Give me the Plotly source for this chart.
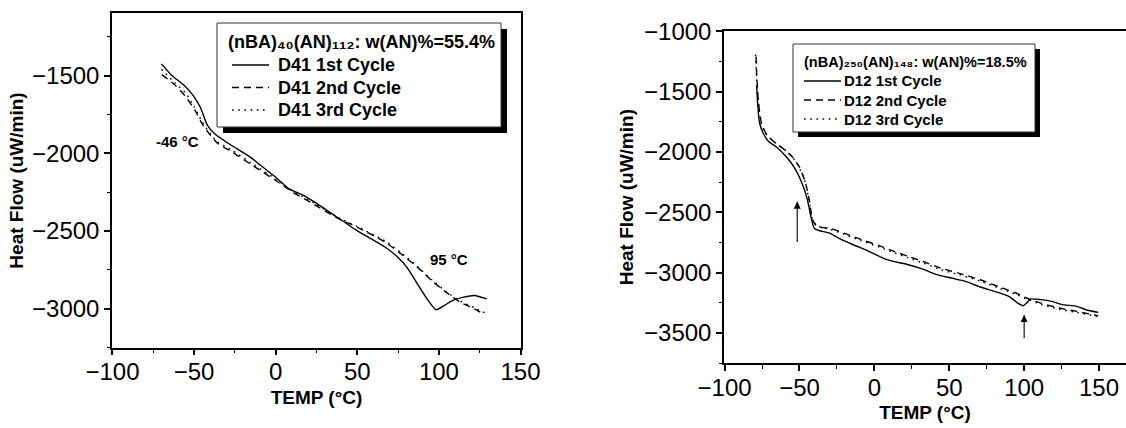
import plotly.graph_objects as go

# ---------------- data ----------------
# (nBA)40(AN)112 sample, DSC heating cycles
left_temp_1 = [-70, -63.6, -56, -50.5, -46.2, -41.8, -37.4, -28.7, -15.6, -9.1, 0, 8.3, 17.1, 30.1,
               49.8, 67.2, 74.8, 80.3, 86.8, 93.4, 98.2, 103.2, 108.6, 115.2, 121.7, 129.3]
left_flow_1 = [-1425, -1500, -1564, -1629, -1704, -1821, -1875, -1939, -2025, -2079, -2154, -2229, -2271, -2357,
               -2497, -2604, -2668, -2732, -2839, -2946, -3006, -2979, -2946, -2925, -2914, -2936]
left_temp_2 = [-69.7, -61.4, -54.9, -49.4, -45, -40.7, -35.3, -26.5, -15.6, 0, 10.5, 23.6, 36.7, 49.8,
               67.2, 78.1, 86.8, 95.5, 104.3, 113, 121.7, 127.2]
left_flow_2 = [-1494, -1564, -1639, -1725, -1811, -1875, -1939, -1993, -2068, -2175, -2250, -2329, -2411, -2475,
               -2572, -2657, -2732, -2818, -2893, -2957, -3000, -3032]
left_temp_3 = [-70, -62, -55, -50, -45.5, -41, -36, -27, -15.6, 0, 10.5, 23.6, 36.7, 49.8,
               67.2, 78.1, 86.8, 95.5, 104.3, 113, 121.7, 128]
left_flow_3 = [-1460, -1545, -1615, -1700, -1790, -1862, -1925, -1980, -2058, -2165, -2242, -2320, -2405, -2470,
               -2565, -2650, -2727, -2812, -2888, -2950, -2992, -3025]

# (nBA)250(AN)148 sample, DSC heating cycles
right_temp_1 = [-78.6, -77.8, -76.6, -74.2, -70.6, -65.8, -61, -56.2, -51.9, -47.9, -44.7, -42.4, -40.2,
                -37.1, -29.9, -23.9, -15.6, -3.6, 8.4, 22.7, 32.3, 41.8, 51.4, 61, 70.6, 80.1, 89.7, 95.7,
                99.3, 101.6, 104, 111.2, 118.4, 125.6, 135.1, 142.3, 149.5]
right_flow_1 = [-1450, -1626, -1763, -1846, -1915, -1956, -2011, -2080, -2163, -2273, -2397, -2535, -2632,
                -2651, -2673, -2714, -2761, -2824, -2893, -2935, -2971, -3017, -3045, -3073, -3119, -3155, -3197, -3252,
                -3274, -3252, -3219, -3224, -3238, -3265, -3279, -3312, -3329]
right_temp_2 = [-79, -78.5, -77.3, -75.4, -71.8, -65.8, -59.8, -55, -50.2, -46.2, -43.5, -41.2, -38.3, -29.9,
                -20.3, -8.4, 3.6, 13.1, 22.7, 32.3, 44.2, 56.2, 70.6, 82.5, 94.5, 101.6, 111.2, 123.2, 135.1, 149.5]
right_flow_2 = [-1212, -1378, -1598, -1763, -1860, -1929, -1984, -2039, -2122, -2246, -2397, -2563, -2618, -2632,
                -2673, -2728, -2778, -2824, -2866, -2907, -2962, -3004, -3059, -3114, -3169, -3210, -3252, -3293, -3321, -3357]
right_temp_3 = [-79.3, -78.8, -77.6, -75.8, -72.5, -66.5, -60.5, -55.5, -50.8, -46.6, -43.8, -41.5, -38.6, -30,
                -20.3, -8.4, 3.6, 13.1, 22.7, 32.3, 44.2, 56.2, 70.6, 82.5, 94.5, 101.6, 111.2, 123.2, 135.1, 149.5]
right_flow_3 = [-1195, -1360, -1580, -1752, -1850, -1920, -1975, -2030, -2115, -2235, -2385, -2550, -2610, -2640,
                -2682, -2738, -2790, -2835, -2878, -2920, -2975, -3015, -3070, -3125, -3180, -3218, -3262, -3303, -3330, -3365]

left_names = ["D41 1st Cycle", "D41 2nd Cycle", "D41 3rd Cycle"]
right_names = ["D12 1st Cycle", "D12 2nd Cycle", "D12 3rd Cycle"]
left_title = "(nBA)₄₀(AN)₁₁₂: w(AN)%=55.4%"
right_title = "(nBA)₂₅₀(AN)₁₄₈: w(AN)%=18.5%"
x_title = "TEMP (°C)"
y_title = "Heat Flow (uW/min)"
note_text = ["-46 °C", "95 °C"]
note_temp = [-60.3, 106]
note_flow = [-1926, -2680]
# arrows marking the transitions: temperature, tip flow, tail flow
arrow_temp = [-51.5, 100]
arrow_tip = [-2413, -3350]
arrow_tail = [-2746, -3543]

# ---------------- styling ----------------
W, H = 1126, 428
FONT = "Liberation Sans, Arial, DejaVu Sans, sans-serif"
DASHES = ["solid", "7px,5px", "1.6px,4.6px"]


def px_x(p):
    return p / W


def px_y(p):
    return 1 - p / H


def bold(size):
    return dict(family=FONT, size=size, color="black", weight="bold")


fig = go.Figure()

for t, f, name, dash in zip([left_temp_1, left_temp_2, left_temp_3],
                            [left_flow_1, left_flow_2, left_flow_3], left_names, DASHES):
    fig.add_trace(go.Scatter(x=t, y=f, name=name, mode="lines", xaxis="x", yaxis="y",
                             line=dict(color="black", width=1.4, dash=dash, shape="spline", smoothing=0.6),
                             showlegend=False))

for t, f, name, dash in zip([right_temp_1, right_temp_2, right_temp_3],
                            [right_flow_1, right_flow_2, right_flow_3], right_names, DASHES):
    fig.add_trace(go.Scatter(x=t, y=f, name=name, mode="lines", xaxis="x2", yaxis="y2",
                             line=dict(color="black", width=1.4, dash=dash, shape="spline", smoothing=0.6),
                             showlegend=False))

# transition arrows: shaft plus an upward arrowhead at the tip
for tx, tip, tail in zip(arrow_temp, arrow_tip, arrow_tail):
    fig.add_trace(go.Scatter(x=[tx, tx], y=[tail, tip], mode="lines", xaxis="x2", yaxis="y2",
                             line=dict(color="black", width=1.1), showlegend=False, hoverinfo="skip"))
    fig.add_trace(go.Scatter(x=[tx], y=[tip], mode="markers", xaxis="x2", yaxis="y2",
                             marker=dict(symbol="arrow-up", size=7, color="black", line=dict(width=0)),
                             showlegend=False, hoverinfo="skip"))

tick_font = dict(family=FONT, size=24, color="black")


def axis(domain, rng, dtick, minor_dtick, title, mirror, standoff, label_shift):
    return dict(domain=domain, range=rng, dtick=dtick, tick0=0, showline=True, linecolor="black",
                linewidth=1.5, mirror=mirror, ticks="outside", ticklen=6, tickwidth=1.5, tickcolor="black",
                showgrid=False, zeroline=False, tickfont=tick_font, ticklabelstandoff=label_shift,
                title=dict(text=title, font=bold(19), standoff=standoff),
                minor=dict(dtick=minor_dtick, tick0=0, ticks="outside", ticklen=3.5, tickwidth=1.2,
                           tickcolor="black", showgrid=False))


fig.update_layout(
    width=W, height=H, margin=dict(l=0, r=0, t=0, b=0),
    paper_bgcolor="white", plot_bgcolor="white", template="none", showlegend=False,
    xaxis=axis([px_x(112), px_x(521)], [-100.3, 150.3], 50, 25, x_title, True, 6, -4),
    yaxis=axis([px_y(347.7), px_y(13.3)], [-3250, -1100], 500, 250, y_title, True, 3, 0),
    xaxis2=axis([px_x(724), 1.0], [-100.4, 168], 50, 25, x_title, True, 6, -4),
    yaxis2=axis([px_y(363.3), px_y(31)], [-3751, -999], 500, 250, y_title, False, 5, 0),
)
fig.layout.xaxis.anchor = "y"
fig.layout.yaxis.anchor = "x"
fig.layout.xaxis2.anchor = "y2"
fig.layout.yaxis2.anchor = "x2"

shapes = []
annotations = []


def legend_block(box, shadow, title, names, title_x, title_y, title_size, line_x, row_y, text_x, size):
    x0, y0, x1, y1 = box
    shapes.append(dict(type="rect", xref="paper", yref="paper",
                       x0=px_x(x0 + shadow), x1=px_x(x1 + shadow), y0=px_y(y1 + shadow), y1=px_y(y0 + shadow),
                       fillcolor="black", line=dict(color="black", width=0), layer="above"))
    shapes.append(dict(type="rect", xref="paper", yref="paper",
                       x0=px_x(x0), x1=px_x(x1), y0=px_y(y1), y1=px_y(y0),
                       fillcolor="white", line=dict(color="#333333", width=1), layer="above"))
    annotations.append(dict(text=title, xref="paper", yref="paper", x=px_x(title_x), y=px_y(title_y),
                            xanchor="left", yanchor="middle", showarrow=False, font=bold(title_size)))
    for name, dash, ry in zip(names, DASHES, row_y):
        shapes.append(dict(type="line", xref="paper", yref="paper",
                           x0=px_x(line_x[0]), x1=px_x(line_x[1]), y0=px_y(ry), y1=px_y(ry),
                           line=dict(color="black", width=1.4, dash=dash), layer="above"))
        annotations.append(dict(text=name, xref="paper", yref="paper",
                                x=px_x(text_x), y=px_y(ry), xanchor="left", yanchor="middle",
                                showarrow=False, font=bold(size)))


legend_block((217, 23, 501, 127), 6, left_title, left_names, 226, 42, 18,
             (232, 269), [65, 87.5, 110], 276, 18)
legend_block((793, 44, 1035, 132), 5, right_title, right_names, 802, 62, 14.5,
             (804, 841), [81, 100, 119], 842, 15)

for text, tx, fy in zip(note_text, note_temp, note_flow):
    annotations.append(dict(text=text, x=tx, y=fy, xref="x", yref="y", showarrow=False,
                            xanchor="center", yanchor="middle", font=bold(15)))

fig.update_layout(shapes=shapes, annotations=annotations)
fig.write_html("out.html")
